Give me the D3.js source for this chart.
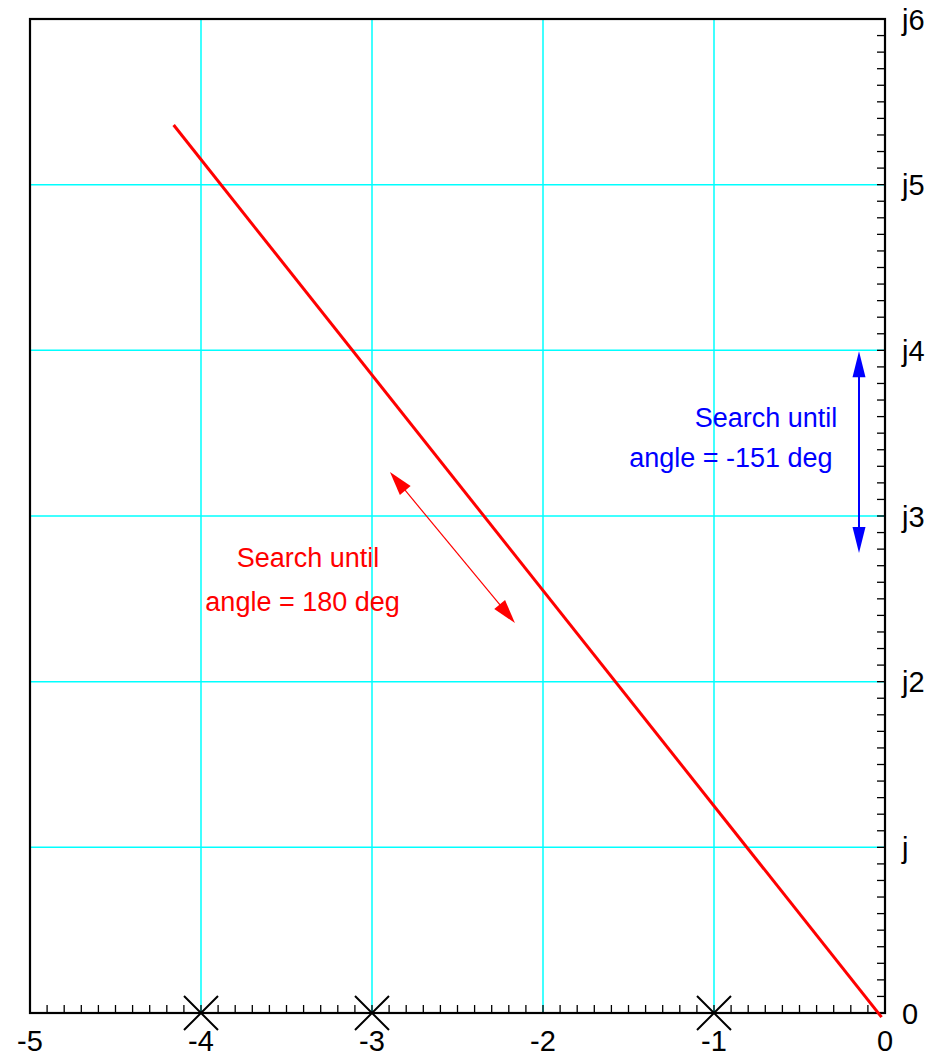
<!DOCTYPE html>
<html>
<head>
<meta charset="utf-8">
<script src="https://d3js.org/d3.v7.min.js"></script>
<style>
  body { margin: 0; background: #fff; }
  text { font-family: "Liberation Sans", Arial, sans-serif; }
</style>
</head>
<body>
<div id="chart"></div>
<script>
// axis ranges and labels
const xTicks = [-5, -4, -3, -2, -1, 0];
const yTicks = [0, 1, 2, 3, 4, 5, 6];
const yTickLabels = ['0', 'j', 'j2', 'j3', 'j4', 'j5', 'j6'];

// open-loop poles (real axis)
const poles = [-4, -3, -1];

// search line from origin
const searchLine = [[-4.16, 5.36], [-0.02, -0.025]];

// double arrows
const redArrow = [[-2.895, 3.266], [-2.164, 2.354]];
const blueArrow = [[-0.152, 3.995], [-0.152, 2.777]];

// annotation text: [x, y, text]
const redNotes = [[-3.374, 2.692, 'Search until'], [-3.406, 2.427, 'angle = 180 deg']];
const blueNotes = [[-0.696, 3.537, 'Search until'], [-0.901, 3.296, 'angle = -151 deg']];

const W = 943, H = 1057;
const margin = {top: 19, right: 58, bottom: 44, left: 30};
const w = W - margin.left - margin.right;
const h = H - margin.top - margin.bottom;

const svg = d3.select('#chart').append('svg')
    .attr('width', W).attr('height', H);
const g = svg.append('g')
    .attr('transform', `translate(${margin.left},${margin.top})`);

const x = d3.scaleLinear().domain([-5, 0]).range([0, w]);
const y = d3.scaleLinear().domain([0, 6]).range([h, 0]);

// grid
g.selectAll('.vgrid').data(xTicks.slice(1, -1)).enter().append('line')
    .attr('x1', d => x(d)).attr('x2', d => x(d))
    .attr('y1', 0).attr('y2', h)
    .attr('stroke', '#00ffff').attr('stroke-width', 1.5);
g.selectAll('.hgrid').data(yTicks.slice(1, -1)).enter().append('line')
    .attr('y1', d => y(d)).attr('y2', d => y(d))
    .attr('x1', 0).attr('x2', w)
    .attr('stroke', '#00ffff').attr('stroke-width', 1.5);

// minor ticks, pointing inward
const xMinor = d3.range(-50, 1).map(d => d / 10);
const yMinor = d3.range(0, 61).map(d => d / 10);
g.selectAll('.xt').data(xMinor).enter().append('line')
    .attr('x1', d => x(d)).attr('x2', d => x(d))
    .attr('y1', h).attr('y2', h - 8)
    .attr('stroke', '#000').attr('stroke-width', 1.3);
g.selectAll('.yt').data(yMinor).enter().append('line')
    .attr('y1', d => y(d)).attr('y2', d => y(d))
    .attr('x1', w).attr('x2', w - 8)
    .attr('stroke', '#000').attr('stroke-width', 1.3);

// frame
g.append('rect')
    .attr('x', 0).attr('y', 0).attr('width', w).attr('height', h)
    .attr('fill', 'none').attr('stroke', '#000').attr('stroke-width', 2.2);

// tick labels
g.selectAll('.xl').data(xTicks).enter().append('text')
    .attr('x', d => x(d)).attr('y', h + 38)
    .attr('text-anchor', 'middle').attr('font-size', 29)
    .text(d => d);
g.selectAll('.yl').data(yTicks).enter().append('text')
    .attr('x', w + 17).attr('y', d => y(d) + 10.5)
    .attr('font-size', 29)
    .text((d, i) => yTickLabels[i]);

// search line
g.append('path')
    .datum(searchLine)
    .attr('d', d3.line().x(d => x(d[0])).y(d => y(d[1])))
    .attr('fill', 'none').attr('stroke', '#ff0000').attr('stroke-width', 3);

// poles
const cs = 17;
poles.forEach(p => {
    const px = x(p), py = y(0);
    g.append('path')
        .attr('d', `M${px - cs},${py - cs}L${px + cs},${py + cs}M${px - cs},${py + cs}L${px + cs},${py - cs}`)
        .attr('stroke', '#000').attr('stroke-width', 2).attr('fill', 'none');
});

// double arrows
function drawArrow(pts, color, lw, hl, hw) {
    const p0 = [x(pts[0][0]), y(pts[0][1])];
    const p1 = [x(pts[1][0]), y(pts[1][1])];
    const dx = p1[0] - p0[0], dy = p1[1] - p0[1];
    const len = Math.hypot(dx, dy);
    const ux = dx / len, uy = dy / len;
    g.append('line')
        .attr('x1', p0[0] + ux * hl * 0.8).attr('y1', p0[1] + uy * hl * 0.8)
        .attr('x2', p1[0] - ux * hl * 0.8).attr('y2', p1[1] - uy * hl * 0.8)
        .attr('stroke', color).attr('stroke-width', lw);
    [[p0, 1], [p1, -1]].forEach(([tip, s]) => {
        const bx = tip[0] + s * ux * hl, by = tip[1] + s * uy * hl;
        const nx = -uy * hw / 2, ny = ux * hw / 2;
        g.append('path')
            .attr('d', `M${tip[0]},${tip[1]}L${bx + nx},${by + ny}L${bx - nx},${by - ny}Z`)
            .attr('fill', color);
    });
}
drawArrow(redArrow, '#ff0000', 1.2, 24, 14);
drawArrow(blueArrow, '#0000ff', 2, 26, 13);

// annotations
g.selectAll('.rn').data(redNotes).enter().append('text')
    .attr('x', d => x(d[0])).attr('y', d => y(d[1]))
    .attr('text-anchor', 'middle').attr('font-size', 27).attr('fill', '#ff0000')
    .text(d => d[2]);
g.selectAll('.bn').data(blueNotes).enter().append('text')
    .attr('x', d => x(d[0])).attr('y', d => y(d[1]))
    .attr('text-anchor', 'middle').attr('font-size', 27).attr('fill', '#0000ff')
    .text(d => d[2]);
</script>
</body>
</html>
